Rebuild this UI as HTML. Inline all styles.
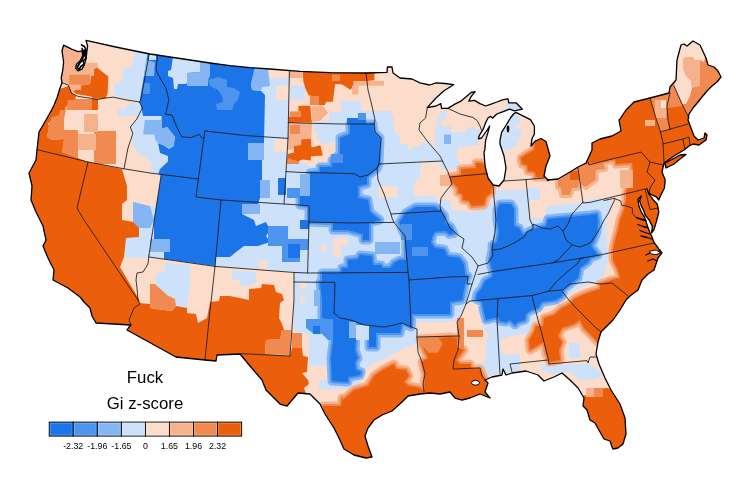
<!DOCTYPE html>
<html><head><meta charset="utf-8"><title>Gi z-score map</title>
<style>
html,body{margin:0;padding:0;background:#fff;}
body{width:750px;height:500px;overflow:hidden;position:relative;font-family:"Liberation Sans",Arial,sans-serif;}
svg{position:absolute;left:0;top:0;}
.t{position:absolute;color:#000;white-space:nowrap;}
</style></head><body>
<svg width="750" height="500" viewBox="0 0 750 500">
<defs><clipPath id="us"><path d="M63.6 45.2 L71.6 49.2 L78 51.6 L82 50.8 L82.8 55.6 L80.4 60.4 L76.4 64.4 L75.6 68.4 L78 70.8 L82 69.2 L84.4 64.4 L86 58.8 L86.8 52.4 L87.6 46 L86 40.4 L118 47.5 L150 54 L170 57 L190 60 L210 63 L230 65.6 L250 67.6 L270 69 L300 71.4 L330 72.6 L366 73 L387 72.4 L387.4 67 L392 67 L393 73 L400 78 L412 79 L420 82.8 L429.6 85 L436 82.8 L445 83.5 L453.6 84.7 L444 90.8 L436 98 L427.2 107.6 L436 106 L440.8 103.6 L441.6 108.4 L448 108.4 L454.4 104.4 L460.8 101.2 L466.4 96.4 L471.2 92.4 L475.2 91.6 L471.2 96.4 L468.8 101.2 L474.4 100.4 L480 103.6 L485.6 106 L490.4 104.4 L496.8 102 L503.2 99.6 L508 98.8 L508.8 102.8 L516 102.8 L522.4 109.2 L514.4 110.8 L509.6 109.2 L503.2 111.6 L496.8 114 L492.8 118 L490.4 116.4 L488 118 L485.6 122.8 L483.2 129.2 L479.2 135.6 L478.4 138.8 L481.6 138 L487.2 130 L489.6 126 L488 132.4 L485.6 140.4 L484.8 150 L484 152 L485 166 L488 178 L493 185 L499 186 L504 180 L506 168 L504 156 L500 144 L500 140.4 L501.6 132.4 L505.6 126 L510.4 118 L513.6 114 L516 112.4 L522.4 115.6 L530.4 119.6 L534.4 126 L534.4 134 L532 138.8 L531 146 L535.2 141.2 L541 138.5 L546 141.5 L550 156 L546 166 L544 176 L548 180 L558 179 L570 172 L578 167 L586 163 L592 150 L592 143 L600 139 L612 136 L621 131 L619 120 L620 119 L626 110 L634 102 L650 98 L669 93 L670 87 L676 80 L677 60 L681 45 L684 44 L687 46 L693 41 L700 45 L706 58 L708 65 L714 67 L718 71 L721 77 L717 82 L712 86 L707 91 L702 97 L698 102 L693 108 L689 114 L688 120 L691 128 L694 136 L698 140 L704 138 L705 133 L707 135 L706 140 L699 145 L693 144 L689 146 L684 150 L674 156 L664 163 L662 172 L665.2 180 L664.4 188 L660.4 196 L658.8 200 L656.4 196.8 L652.4 195.2 L648.4 192.8 L646.8 188.8 L649.2 194.4 L654 200.8 L657.2 204 L658.8 212 L656.4 221.6 L654 229.6 L651.6 232.8 L652.4 226.4 L649.2 220 L645.2 215.2 L643.6 210.4 L641.2 205.6 L639.6 200.8 L641.2 196 L638 199.2 L638.8 205.6 L641.2 212 L644.4 216.8 L646 221.6 L647.6 226.4 L650 232.8 L651.6 236 L654 242.4 L658.8 248.8 L662 252.8 L658 258 L654 270 L648 274 L642 280 L638 290 L630 296 L626 300 L620 310 L613 320 L606 327 L601 332 L598 342 L596 354 L599 364 L605 378 L611 390 L620 404 L625 418 L626 434 L623 444 L618 448 L613 449 L612 447 L610 441 L604 439 L600 432 L595 423 L590 420 L587 410 L583 406 L584 398 L578 388 L570 380 L562 373 L554 377 L544 381 L538 375 L526 371 L512 373 L506 375 L503 369 L502 375 L492 377 L485 380 L488 383 L485 392 L490 398 L480 394 L470 398 L462 400 L455 398 L450 392 L440 394 L430 393 L420 394 L408 396 L402 402 L392 411 L382 415 L374 420 L368 428 L365 436 L368 446 L372 457 L366 458 L354 455 L344 449 L339 438 L334 428 L325 414 L320 404 L310 394 L298 393 L287 406 L280 404 L274 398 L266 390 L262 380 L250 366 L240 354 L217 355 L216 361 L205 360 L176 357 L127 330 L129 327 L131 325 L96 323 L92 316 L90 308 L84 302 L80 297 L68 288 L53 280 L54 270 L48 258 L43 246 L46 240 L43 226 L40 220 L36 212 L31 200 L32 186 L29 173 L36 160 L37 150 L39 132 L46 120 L51.6 110 L54 105.2 L57.2 97.2 L59.6 89.2 L62 82.8 L61.2 78 L62.8 70 L63.6 62 L62 50.8Z M665 163 L672 159.5 L680 155 L686 154.5 L680 159 L674 164 L666 168Z"/></clipPath></defs>
<g clip-path="url(#us)">
<rect x="0" y="0" width="750" height="500" fill="#fcddcb"/>
<polygon points="134.8,45 289,60 289,120 288,138 286,164 300,161 310,166 331,166 332,160 340,154 340,142 322,144 318,138 312,124 329,120 329,112 341,112 341,101 361,101 361,111 391,111 394,120 394,132 400,136 400,144 408,144 408,150 412,150 412,146 420,146 426,140 430,144 440,156 443,162 440,162 421,163 420,174 420,178 414,184 414,196 436,196 436,200 450,200 452,210 470,212 486,208 493,200 494,190 526,190 527,188 540,188 540,200 546,206 570,204 583,202 600,198 612,200 610,212 606,220 608,255 606,270 600,282 590,284 580,288 570,294 564,299 554,304 544,308 536,312 534,322 530,334 510,336 500,340 502,354 520,354 520,370 499,374 490,376 476,372 472,364 486,362 486,340 490,334 484,330 482,318 478,312 480,304 476,302 466,304 462,312 458,320 450,322 417,322 417,330 417,343 400,350 383,360 367,367 360,376 348,382 332,382 331,366 309,366 309,334 298,334 294,330 294,300 294,272 215,266 164,259 150,258 124,257 126,238 139,237 140,228 133,228 133,202 150,206 161,206 161,176 151,172 150.4,161 146.4,157.6 138.4,154.4 132,143 132.8,133.6 130.4,127 136.8,119 139,116 119,116 116,110.4 125.6,108 127,104 138.4,103 139.6,102 119.6,98 114.8,95.6 114,84.4 122,81.2 122.8,68.4 130,67.6 134,59.6" fill="#cde1fa"/>
<polygon points="165,263 191,265 190,286 187,308 176,306 175,299 167,295 155,284 156,274 165,270" fill="#cde1fa"/>
<polygon points="232,270 256,272 256,282 250,286 240,286 240,280 232,280" fill="#cde1fa"/>
<polygon points="440.4,111.6 446.4,111.6 446.4,118.8 441.6,120 441.6,126 451.2,126 451.2,132 465.6,132 466,129 470,127 475,127 477,130 481,131 481.5,135 478,139 478.5,145 472.8,145.2 458.4,147.6 456,159.6 460.8,162 456,169.2 441.6,169.2 440.4,162 434.4,154.8 435.6,126" fill="#cde1fa"/>
<polygon points="444,134.4 451,134.4 451,144 444,144" fill="#85b6f3"/>
<polygon points="500,110 507,108 507,102 510,100 516,102 519,106 523.5,109.5 514,111.5 507,112.5 500,112.5" fill="#cde1fa"/>
<polygon points="513,112 520,117.5 521,124 516,125 515.5,129 521,129.5 521.5,137 518,138 517.5,145 513.6,146.8 509.6,150 498,150 499,140 501,132 505,126 510,118" fill="#cde1fa"/>
<polygon points="541,364 562,365 588,363.5 593,366 600,371 601.5,376 594,379.5 580,380.5 577,377 569,371.5 561,372.5 553,374 541,370" fill="#cde1fa"/>
<polygon points="569,343 580,343 580,358 569,358" fill="#cde1fa"/>
<polygon points="300,86 305,86 305,94 300,94" fill="#cde1fa"/>
<polygon points="319,380 360,380 360,389 319,389" fill="#cde1fa"/>
<polygon points="268,60 289,60 288,78 268,78" fill="#fcddcb"/>
<polygon points="276,86 289,86 289,100 276,100" fill="#fcddcb"/>
<polygon points="274,139 287,139 287,152 274,152" fill="#fcddcb"/>
<polygon points="333,238 348,238 348,245 341,245 341,257 333,257" fill="#fcddcb"/>
<polygon points="321,245 326,245 326,252 321,252" fill="#fcddcb"/>
<polygon points="379,186 397,186 397,198 379,198" fill="#fcddcb"/>
<polygon points="259,260 267,260 267,270 259,270" fill="#fcddcb"/>
<polygon points="530,200 546,200 546,218 530,218" fill="#fcddcb"/>
<polygon points="300,282 306,282 306,289 300,289" fill="#fcddcb"/>
<polygon points="300,296 305,296 305,303 300,303" fill="#fcddcb"/>
<polygon points="149,45 255,60 255,70 251,84 252,90 261,91 265,95 264,143 248,143 248,160 262,160 262,180 260,198 258,204 244,204 242,214 254,220 256,226 266,222 270,230 266,236 270,242 258,246 244,246 236,252 230,257 216,257 215,266 164,259 164,252 168,246 170,242 154,239 154,220 161,176 158.4,173.6 160,169 168,161.6 168,156 160,153 158,143 164,145.6 169,149 173.6,146 175,137 167,127 161.6,129 161.6,116 143,116 141,105 139.6,102" fill="#1c74e9"/>
<polygon points="350,124 373,124 374,132 380,138 379,164 377,169 368,176 367,178 367,184 358,186 358,198 368,200 370,212 380,220 369,223 369,240 363,240 363,234 348,230 333,230 333,223 309,222 309,206 300,205 300,196 310,195 310,173 320,172 320,167 332,167 332,160 340,154 340,138 350,134" fill="#85b6f3" stroke="#85b6f3" stroke-width="9" stroke-linejoin="round"/>
<polygon points="322,273 341,273 342,268 348,268 348,260 358,259 360,255 372,256 373,265 381,265 382,268 390,268 394,263 400,260 406,260 406,236.6 402,230.2 399.6,222.2 406,212.6 415.6,207 434.8,207 439.6,210.2 444.4,215.8 445.2,223 450.8,227 454,233.4 449.2,234.2 446,231 434.8,231.8 432.4,236.6 430.8,243 434.8,247.8 444.4,249.4 447.6,256.6 458.8,257.4 463.6,263.8 465.2,275 468,276 465,284 462,300 450,302 450,314 412,314 411,327 402,323 400,333 364,333 364,326 354,322 346,320 340,318 334,313 335,282 322,282" fill="#85b6f3" stroke="#85b6f3" stroke-width="9" stroke-linejoin="round"/>
<polygon points="320,282 335,282 334,313 340,318 349,320 349,336 356,337 355,350 358,358 355,362 356,370 361,372 360,375 348,377 348,382 332,381 331,358 333,342 333,320 322,318 322,300" fill="#85b6f3" stroke="#85b6f3" stroke-width="9" stroke-linejoin="round"/>
<polygon points="369,333 376,333 376,347 369,347" fill="#85b6f3" stroke="#85b6f3" stroke-width="9" stroke-linejoin="round"/>
<polygon points="490,260 492,250 492,245 497,242 499,232 497,220 497,210 500,204 511,204 514,209 514,226 519,228 523,235 530,231 534,229 546,226 548,219 570,217 590,215 597,214 598,222 597,232 594,240 591,246 598,255 590,258 588,262 580,268 578,278 570,284 564,289 562,296 556,300 542,302 538,308 530,311 526,314 525,320 518,322 515,325 510,320 506,322 500,321 498,317 486,320 484,312 482,302 476,299 477,294 482,288 485,281 492,277 493,272 491,266" fill="#85b6f3" stroke="#85b6f3" stroke-width="9" stroke-linejoin="round"/>
<polygon points="350,124 373,124 374,132 380,138 379,164 377,169 368,176 367,178 367,184 358,186 358,198 368,200 370,212 380,220 369,223 369,240 363,240 363,234 348,230 333,230 333,223 309,222 309,206 300,205 300,196 310,195 310,173 320,172 320,167 332,167 332,160 340,154 340,138 350,134" fill="#4d94ee" stroke="#4d94ee" stroke-width="4" stroke-linejoin="round"/>
<polygon points="322,273 341,273 342,268 348,268 348,260 358,259 360,255 372,256 373,265 381,265 382,268 390,268 394,263 400,260 406,260 406,236.6 402,230.2 399.6,222.2 406,212.6 415.6,207 434.8,207 439.6,210.2 444.4,215.8 445.2,223 450.8,227 454,233.4 449.2,234.2 446,231 434.8,231.8 432.4,236.6 430.8,243 434.8,247.8 444.4,249.4 447.6,256.6 458.8,257.4 463.6,263.8 465.2,275 468,276 465,284 462,300 450,302 450,314 412,314 411,327 402,323 400,333 364,333 364,326 354,322 346,320 340,318 334,313 335,282 322,282" fill="#4d94ee" stroke="#4d94ee" stroke-width="4" stroke-linejoin="round"/>
<polygon points="320,282 335,282 334,313 340,318 349,320 349,336 356,337 355,350 358,358 355,362 356,370 361,372 360,375 348,377 348,382 332,381 331,358 333,342 333,320 322,318 322,300" fill="#4d94ee" stroke="#4d94ee" stroke-width="4" stroke-linejoin="round"/>
<polygon points="369,333 376,333 376,347 369,347" fill="#4d94ee" stroke="#4d94ee" stroke-width="4" stroke-linejoin="round"/>
<polygon points="490,260 492,250 492,245 497,242 499,232 497,220 497,210 500,204 511,204 514,209 514,226 519,228 523,235 530,231 534,229 546,226 548,219 570,217 590,215 597,214 598,222 597,232 594,240 591,246 598,255 590,258 588,262 580,268 578,278 570,284 564,289 562,296 556,300 542,302 538,308 530,311 526,314 525,320 518,322 515,325 510,320 506,322 500,321 498,317 486,320 484,312 482,302 476,299 477,294 482,288 485,281 492,277 493,272 491,266" fill="#4d94ee" stroke="#4d94ee" stroke-width="4" stroke-linejoin="round"/>
<polygon points="350,124 373,124 374,132 380,138 379,164 377,169 368,176 367,178 367,184 358,186 358,198 368,200 370,212 380,220 369,223 369,240 363,240 363,234 348,230 333,230 333,223 309,222 309,206 300,205 300,196 310,195 310,173 320,172 320,167 332,167 332,160 340,154 340,138 350,134" fill="#1c74e9"/>
<polygon points="322,273 341,273 342,268 348,268 348,260 358,259 360,255 372,256 373,265 381,265 382,268 390,268 394,263 400,260 406,260 406,236.6 402,230.2 399.6,222.2 406,212.6 415.6,207 434.8,207 439.6,210.2 444.4,215.8 445.2,223 450.8,227 454,233.4 449.2,234.2 446,231 434.8,231.8 432.4,236.6 430.8,243 434.8,247.8 444.4,249.4 447.6,256.6 458.8,257.4 463.6,263.8 465.2,275 468,276 465,284 462,300 450,302 450,314 412,314 411,327 402,323 400,333 364,333 364,326 354,322 346,320 340,318 334,313 335,282 322,282" fill="#1c74e9"/>
<polygon points="320,282 335,282 334,313 340,318 349,320 349,336 356,337 355,350 358,358 355,362 356,370 361,372 360,375 348,377 348,382 332,381 331,358 333,342 333,320 322,318 322,300" fill="#1c74e9"/>
<polygon points="369,333 376,333 376,347 369,347" fill="#1c74e9"/>
<polygon points="490,260 492,250 492,245 497,242 499,232 497,220 497,210 500,204 511,204 514,209 514,226 519,228 523,235 530,231 534,229 546,226 548,219 570,217 590,215 597,214 598,222 597,232 594,240 591,246 598,255 590,258 588,262 580,268 578,278 570,284 564,289 562,296 556,300 542,302 538,308 530,311 526,314 525,320 518,322 515,325 510,320 506,322 500,321 498,317 486,320 484,312 482,302 476,299 477,294 482,288 485,281 492,277 493,272 491,266" fill="#1c74e9"/>
<polygon points="144.8,120 161.6,120 161.6,128.8 167.2,127.2 175.2,136.8 173.6,146.4 168.8,148.8 164,145.6 158.4,143.2 155.2,140 154.4,134.4 143.2,134.4" fill="#85b6f3"/>
<polygon points="173,57 200,60 200,72 187,73 190,78 186,84 178,84 177,89 174,89 173,78 168,76 168,71 171,70" fill="#cde1fa"/>
<polygon points="200,60 210,62 210,76 208,80 208,86 187,86 187,73 200,72" fill="#85b6f3"/>
<polygon points="255,66 268,68 270,86 262,87 261,91 252,90 251,84" fill="#85b6f3"/>
<polygon points="208,80 218,77 227,80 227,87 234,88 240,92 238,100 234,104 232,110 217,110 216,104 223,102 222,96 218,90 210,86" fill="#4d94ee"/>
<polygon points="248,143 264,143 264,160 248,160" fill="#85b6f3"/>
<polygon points="260,180 270,180 270,198 260,198" fill="#85b6f3"/>
<polygon points="150,239 170,239 170,252 150,252" fill="#85b6f3"/>
<polygon points="133,202 150,206 154,220 150,228 133,228" fill="#85b6f3"/>
<polygon points="143,83 150,83 150,94 143,94" fill="#4d94ee"/>
<polygon points="149,52 156,52 156,60 149,60" fill="#cde1fa"/>
<polygon points="146,60 155,62 154,76 144,76" fill="#85b6f3"/>
<polygon points="278,178 286,178 286,195 278,195" fill="#1c74e9"/>
<polygon points="287,188 300,188 300,198 287,198" fill="#4d94ee"/>
<polygon points="268,226 288,226 288,246 268,246" fill="#4d94ee"/>
<polygon points="282,239 300,239 300,262 282,262" fill="#4d94ee"/>
<polygon points="288,244 300,244 300,258 288,258" fill="#1c74e9"/>
<polygon points="300,220 309,220 309,229 300,229" fill="#1c74e9"/>
<polygon points="300,239 308,239 308,250 300,250" fill="#4d94ee"/>
<polygon points="300,174 310,174 310,196 300,196" fill="#85b6f3"/>
<polygon points="242,204 260,204 260,214 242,214" fill="#85b6f3"/>
<polygon points="375,242 400,242 400,254 375,254" fill="#85b6f3"/>
<polygon points="412,247 428,247 428,256 412,256" fill="#4d94ee"/>
<polygon points="331,154 343,154 343,163 331,163" fill="#4d94ee"/>
<polygon points="347,118 366,118 366,124 347,124" fill="#1c74e9"/>
<polygon points="358,113 366,113 366,120 358,120" fill="#4d94ee"/>
<polygon points="364,326 400,326 400,333 364,333" fill="#1c74e9"/>
<polygon points="306,319 333,319 333,340 328,340 322,334 314,334 306,328" fill="#4d94ee"/>
<polygon points="313,326 320,326 320,334 313,334" fill="#1c74e9"/>
<polygon points="314,290 320,290 320,306 314,306" fill="#85b6f3"/>
<polygon points="356,325 369,325 369,340 356,340" fill="#cde1fa"/>
<polygon points="349,322 356,322 356,338 349,338" fill="#85b6f3"/>
<polygon points="401,224 412,224 412,240 401,240" fill="#4d94ee"/>
<polygon points="55,40 82,50.8 86,58.8 86.8,62.8 97.2,62.8 98,67.6 94,69.2 93.2,76.4 90,76.4 90,84.4 81.2,84.4 81.2,90 74.8,90.8 73.2,94 68.4,85.2 62,82.8 50,70" fill="#f6b28c"/>
<polygon points="69.2,74.8 90,74.8 90,84.4 69.2,84.4" fill="#f08a50"/>
<polygon points="81.2,84.4 90,84.4 90,90 81.2,90" fill="#f08a50"/>
<polygon points="97.2,67.6 102,71.6 108.4,76.4 107.6,94 105.2,98.8 94,98.8 90.8,96.4 76.4,94 73.2,91.6 75.6,90 81.2,90 81.2,85.2 90,84.4 90.8,76.4 94,75.6 94,69.2" fill="#eb5f0c"/>
<polygon points="50,117 61,106 67,106 64,119 64,130 78,130 78,158 62,152 64,139 52,140 47,137 49,126" fill="#f08a50"/>
<polygon points="67,99 96,99 96,110 67,110" fill="#f08a50"/>
<polygon points="94,131 116,131 116,164 94,164" fill="#f08a50"/>
<polygon points="78,134 96,134 96,150 78,150" fill="#f6b28c"/>
<polygon points="84,114 98,114 98,132 84,132" fill="#f6b28c"/>
<polygon points="92,99 98,99 98,110 92,110" fill="#eb5f0c"/>
<polygon points="59.6,89.2 68.8,86 72,93 76,96 75,100 68,100 67,106 61,106 59,115 52,117 50,122 42,128 39,138 37,150 20,150 20,89" fill="#eb5f0c"/>
<polygon points="20,84 59.6,89.2 68.8,86 71.6,93.2 70,98.8 66.8,100.4 64.4,110 51.6,110 46,120 49,126 47,137 52,140 64,139 62,152 88,162 122,169 127,186 127,200 122,204 122,220 133,222 139,228 139,237 126,238 124,257 120,267 137,296 140,302 139,303 150,304 150,308 172,311 176,306 187,308 187,313 196,314 198,323 207,318 210,302 219,301 220,296 230,296 249,300 249,289 261,288 262,284 274,285 276,292 282,294 284,300 280,303 279,318 282,324 284,330 282,330 280,339 266,340 265,354 290,356 292,348 302,348 303,356 308,357 307,372 302,373 308,380 309,384 304,388 306,394 310,394 323,406 330,420 300,430 200,380 100,340 20,300" fill="#eb5f0c"/>
<polygon points="150,284 155,284 167,295 175,299 176,306 172,311 150,308" fill="#f08a50"/>
<polygon points="282,330 291,330 290,355 265,354 266,340 280,339" fill="#f08a50"/>
<polygon points="292,333 302,333 302,348 292,348" fill="#f08a50"/>
<polygon points="343,400 354,390 368,386 374,376 384,369 394,364 396,369 406,370 409,376 404,382 409,386 420,388 424,392 430,410 380,470 340,470 325,414 323,406 341,406 342,398" fill="#f6b28c" stroke="#f6b28c" stroke-width="9" stroke-linejoin="round"/>
<polygon points="420,339 450,337 458,338 459,348 464,350 456,360 460,364 470,364 472,369 480,369 485,380 495,405 440,410 424,392 425,374 422,362 428,358 424,350" fill="#f6b28c" stroke="#f6b28c" stroke-width="9" stroke-linejoin="round"/>
<polygon points="544,318 554,315 562,308 570,304 578,312 580,320 574,324 562,328 558,336 562,342 559,350 560,360 550,362 546,354 544,342 530,350 529,340 534,332 536,326 543,326" fill="#f6b28c" stroke="#f6b28c" stroke-width="9" stroke-linejoin="round"/>
<polygon points="598,342 592,336 584,328 581,322 578,312 570,304 574,299 582,295 590,292 600,289 600,284 612,280 620,278 618,270 613,260 613,250 615,240 618,230 620,220 624,210 626,200 626,193 627,189 631,186 630,178 633,172 632,163 616,164 615,159 600,162 588,164 580,166 575,150 600,100 760,20 760,300 620,340" fill="#f6b28c" stroke="#f6b28c" stroke-width="9" stroke-linejoin="round"/>
<polygon points="558,180 570,172.4 578,167.6 580,178 578,188 572,188 570,195 562,195 561,188 558,187" fill="#f6b28c" stroke="#f6b28c" stroke-width="6" stroke-linejoin="round"/>
<polygon points="578.8,167.6 602.8,161.6 605.2,168.8 595.6,170 595.6,179.6 586,186.8 581.2,184.4" fill="#f6b28c" stroke="#f6b28c" stroke-width="6" stroke-linejoin="round"/>
<polygon points="461,169 476,168 476,163 482,163 485,168 487,178 492,186 491,193 486,197 484,205 472,206 469,201 463,200 462,194 458,193 458,188 454,184 450,180 450,177 461,175" fill="#f6b28c" stroke="#f6b28c" stroke-width="9" stroke-linejoin="round"/>
<polygon points="538,139 546,141 552,156 548,166 545,177 536,177 535,172 528,171 527,165 522,164 521,158 527,154 534,150 535,142" fill="#f6b28c" stroke="#f6b28c" stroke-width="9" stroke-linejoin="round"/>
<polygon points="343,400 354,390 368,386 374,376 384,369 394,364 396,369 406,370 409,376 404,382 409,386 420,388 424,392 430,410 380,470 340,470 325,414 323,406 341,406 342,398" fill="#f08a50" stroke="#f08a50" stroke-width="4" stroke-linejoin="round"/>
<polygon points="420,339 450,337 458,338 459,348 464,350 456,360 460,364 470,364 472,369 480,369 485,380 495,405 440,410 424,392 425,374 422,362 428,358 424,350" fill="#f08a50" stroke="#f08a50" stroke-width="4" stroke-linejoin="round"/>
<polygon points="544,318 554,315 562,308 570,304 578,312 580,320 574,324 562,328 558,336 562,342 559,350 560,360 550,362 546,354 544,342 530,350 529,340 534,332 536,326 543,326" fill="#f08a50" stroke="#f08a50" stroke-width="4" stroke-linejoin="round"/>
<polygon points="598,342 592,336 584,328 581,322 578,312 570,304 574,299 582,295 590,292 600,289 600,284 612,280 620,278 618,270 613,260 613,250 615,240 618,230 620,220 624,210 626,200 626,193 627,189 631,186 630,178 633,172 632,163 616,164 615,159 600,162 588,164 580,166 575,150 600,100 760,20 760,300 620,340" fill="#f08a50" stroke="#f08a50" stroke-width="4" stroke-linejoin="round"/>
<polygon points="461,169 476,168 476,163 482,163 485,168 487,178 492,186 491,193 486,197 484,205 472,206 469,201 463,200 462,194 458,193 458,188 454,184 450,180 450,177 461,175" fill="#f08a50" stroke="#f08a50" stroke-width="4" stroke-linejoin="round"/>
<polygon points="538,139 546,141 552,156 548,166 545,177 536,177 535,172 528,171 527,165 522,164 521,158 527,154 534,150 535,142" fill="#f08a50" stroke="#f08a50" stroke-width="4" stroke-linejoin="round"/>
<polygon points="343,400 354,390 368,386 374,376 384,369 394,364 396,369 406,370 409,376 404,382 409,386 420,388 424,392 430,410 380,470 340,470 325,414 323,406 341,406 342,398" fill="#eb5f0c"/>
<polygon points="420,339 450,337 458,338 459,348 464,350 456,360 460,364 470,364 472,369 480,369 485,380 495,405 440,410 424,392 425,374 422,362 428,358 424,350" fill="#eb5f0c"/>
<polygon points="457,318 464,318 464,348 457,348" fill="#f08a50"/>
<polygon points="418.8,337.6 438,337.6 442.8,343.2 438,352.8 428.4,352.8 424.4,348 419.6,346.4" fill="#f08a50"/>
<polygon points="467,330 483,330 483,337 467,337" fill="#f08a50"/>
<polygon points="544,318 554,315 562,308 570,304 578,312 580,320 574,324 562,328 558,336 562,342 559,350 560,360 550,362 546,354 544,342 530,350 529,340 534,332 536,326 543,326" fill="#eb5f0c"/>
<polygon points="598,342 592,336 584,328 581,322 578,312 570,304 574,299 582,295 590,292 600,289 600,284 612,280 620,278 618,270 613,260 613,250 615,240 618,230 620,220 624,210 626,200 626,193 627,189 631,186 630,178 633,172 632,163 616,164 615,159 600,162 588,164 580,166 575,150 600,100 760,20 760,300 620,340" fill="#eb5f0c"/>
<polygon points="558,180 570,172.4 578,167.6 580,178 578,188 572,188 570,195 562,195 561,188 558,187" fill="#f08a50"/>
<polygon points="570,171 579,171 579,180 570,180" fill="#eb5f0c"/>
<polygon points="578.8,167.6 602.8,161.6 605.2,168.8 595.6,170 595.6,179.6 586,186.8 581.2,184.4" fill="#f08a50"/>
<polygon points="670,87 676,80 677,60 681,40 700,40 725,77 700,100 688,120 689,118 682,104 674,86" fill="#f08a50"/>
<polygon points="676,80 677,60 681,40 693,38 700,45 705,57 704,62 700,60 694,60 693,57 683,58 683,68 686,76 691,80 692,88 690,96 686,104 682,104 674,86" fill="#fcddcb"/>
<polygon points="683,58 693,57 694,60 700,60 700,86 692,88 691,80 686,76 683,68" fill="#f6b28c"/>
<polygon points="650,98 669,93 670,87 674,86 682,104 689,118 688,124 660,132 656.5,120" fill="#f08a50"/>
<polygon points="655,100 666,100 666,118 655,118" fill="#f6b28c"/>
<polygon points="667.5,108 683,106 689,118 688,124 669,129.5 668,120" fill="#eb5f0c"/>
<polygon points="661,100 666,100 666,108 661,108" fill="#fcddcb"/>
<polygon points="645,120 655,120 655,126 645,126" fill="#f6b28c"/>
<polygon points="290,85.8 304.8,85.8 304.8,99.4 290,99.4" fill="#cde1fa"/>
<polygon points="302.4,60 374.4,60 374.4,80.2 366.4,81 353.6,81.8 353.6,85.8 350.4,89.8 344,85.8 341.6,84.2 335.2,84.2 332.8,101.8 326.4,101.8 324.8,105 316,105 314.4,96.2 308.8,95.4 305.6,89 303.2,81" fill="#eb5f0c"/>
<polygon points="332,74.6 340,74.6 340,81 332,81" fill="#f08a50"/>
<polygon points="289,60 302.4,60 302.4,78 289,78" fill="#f6b28c"/>
<polygon points="353.6,81 384,81 384,85.8 353.6,85.8" fill="#f6b28c"/>
<polygon points="352,85.8 358.4,85.8 358.4,94.6 352,94.6" fill="#f6b28c"/>
<polygon points="310,96 319,96 319,105 310,105" fill="#f08a50"/>
<polygon points="311.2,106.6 323.2,105.8 328,113 323.2,117.8 320,121 312,121.8" fill="#f6b28c"/>
<polygon points="298.4,105.8 310.4,105.8 311.2,117.8 312,122.6 288.8,122.6 288.8,117 300.8,116.2 300.8,111.4 298.4,111.4" fill="#eb5f0c"/>
<polygon points="289.6,111.4 300.8,111.4 300.8,117 289.6,117" fill="#f08a50"/>
<polygon points="288,122.6 312,122.6 311,146 288,150" fill="#f6b28c"/>
<polygon points="290,125 300,125 300,134 290,134" fill="#f08a50"/>
<polygon points="287,157 299,157 299,164 287,164" fill="#f08a50"/>
<polygon points="287.6,154 294,152.4 294,146 301.2,145.2 301.2,139.6 310.8,138.8 311.6,147.6 320.4,145.2 322.8,155.6 310.8,156.4 310.8,160.4 302.8,159.6 298,161.2 287.6,158" fill="#eb5f0c"/>
<polygon points="461,169 476,168 476,163 482,163 485,168 487,178 492,186 491,193 486,197 484,205 472,206 469,201 463,200 462,194 458,193 458,188 454,184 450,180 450,177 461,175" fill="#eb5f0c"/>
<polygon points="538,139 546,141 552,156 548,166 545,177 536,177 535,172 528,171 527,165 522,164 521,158 527,154 534,150 535,142" fill="#eb5f0c"/>
<polygon points="440,175 450,175 450,186 440,186" fill="#f6b28c"/>
<polygon points="583,396 590,394 593,389 608,388 612,390 640,420 630,460 590,460 575,400" fill="#eb5f0c"/>
<polygon points="592,388 603,388 603,397 592,397" fill="#f08a50"/>
<polygon points="586,388 594,388 594,397 586,397" fill="#f6b28c"/>
<polygon points="620,170 633,170 633,188 620,188" fill="#f6b28c"/>
</g>
<g fill="none" stroke="#1a1a1a" stroke-width="0.85" stroke-linejoin="round" stroke-linecap="round">
<path d="M448 108.4 L460 114 L473 117.5 L477.5 121 L480 126 L481.5 130"/>
<path d="M62 82.8 L68.4 85.2 L71.6 93.2 L78 96.4 L89.2 98 L97.2 99.6 L105.2 98 L113.2 97.2 L127 100 L139.6 102"/>
<path d="M149.2 54 L140.8 100 L139.6 102"/>
<path d="M139.6 102 L142.4 108 L136.8 119 L130.4 127 L132.8 133.6 L128 148 L124 168.8"/>
<path d="M37 149.6 L88 162 L124 168.8 L150 173 L198.4 179"/>
<path d="M88 162 L77 208 L84 220 L138 300"/>
<path d="M138 300 L140 304 L134 308 L129 320 L131 325"/>
<path d="M149 255 L148 264 L143 272 L137 273 L136 280 L137 288 L138 300"/>
<path d="M161 176 L149 255"/>
<path d="M149 257 L215 266.4"/>
<path d="M157.6 55 L156 70 L160 78 L166 88 L168.8 100 L165.6 114.4 L172 115 L176.8 127 L181.6 136.8 L191 137.6 L199 134.4 L202.4 138.4 L204 137.5"/>
<path d="M204.8 131 L246 135.6 L288 138.4"/>
<path d="M204.8 131 L198.4 179 L196 197 L221 200"/>
<path d="M289.4 71.6 L288 138.4 L286 172 L284 204"/>
<path d="M288.2 122.5 L300 123 L340 124 L374 124"/>
<path d="M286 171.6 L300 172.4 L354 173.6 L360 177 L368 175 L377 168 L379 164.5"/>
<path d="M221 200 L284 204 L300 205 L309 206 L309 222"/>
<path d="M309 222 L350 223 L394 222.4 L400 230 L405 236 L408 272.4 L409 280 L411 327"/>
<path d="M221 200 L215 266.4"/>
<path d="M215 266.4 L293 272.4 L307.6 273 L408 272.4"/>
<path d="M215 266.4 L209 320 L205 360"/>
<path d="M294 272.4 L294 300 L290 356"/>
<path d="M240 353.6 L290 356"/>
<path d="M309 222 L307.6 273"/>
<path d="M293.6 282 L335 282.4 L334 313"/>
<path d="M334 313 L340 318 L346 319 L354 321 L364 325 L374 326 L384 327 L394 325 L402 323 L411 327 L417 329 L417 337 L418 352 L422 362 L425 374 L423 384 L424 392"/>
<path d="M409 280 L450 277 L468 276.4 L467 284 L472 284"/>
<path d="M417 337 L459 336"/>
<path d="M379 164.5 L377 168 L378 180 L384 194 L388 206 L391 214 L392 218 L394 222.4"/>
<path d="M379 164 L442 161"/>
<path d="M374 124 L375 132 L381 138 L379 164"/>
<path d="M366 73 L368 90 L372 106 L375 120 L374 124"/>
<path d="M427.2 108.4 L425.6 118 L420 122.8 L419 130 L428 142 L440 156 L443 162"/>
<path d="M443 162 L448 172 L450 178 L452 184 L447 190 L441 198 L440 206 L441 211 L444 216 L450 228 L458 235 L464 239 L462 248 L472 257 L478 266 L475 275 L472 284 L469 294 L466 304 L461 316 L457 322 L459 336 L458 350 L454 360 L453 369 L480 368 L482 376 L485 380"/>
<path d="M450 177 L487 173.6"/>
<path d="M391 214 L441 211"/>
<path d="M493 186 L496 220 L495 232 L493 242 L492 250"/>
<path d="M478 266 L488 263 L493 255 L492 250 L500 249 L508 246 L516 242 L524 237 L527 232 L533 229 L533 224 L542 228 L550 229 L558 226 L563 231 L568 224 L572 214 L583 202"/>
<path d="M504 181 L526 179.6 L544 178"/>
<path d="M526 179.6 L530 220 L533 226"/>
<path d="M578 168 L583 203 L590 202.4 L646 188.8"/>
<path d="M588 162 L589 165 L600 162 L641 152 L650 162 L647 172 L655 180 L650 188 L649 194"/>
<path d="M650 162 L663 165"/>
<path d="M645.2 189.6 L650 209.6 L658 208"/>
<path d="M650 98 L656.5 120 L660 130 L663 143 L664 162"/>
<path d="M670 93 L667 106 L668 120 L670 129"/>
<path d="M674 86 L682 104 L689 118"/>
<path d="M660 132 L688 124"/>
<path d="M663 144 L683 139 L689 137 L690 145"/>
<path d="M683 139 L685 150"/>
<path d="M478 274.4 L496 271 L552 263 L600 255 L654 243"/>
<path d="M563 231 L566 240 L572 245 L558 260 L552 263"/>
<path d="M572 245 L580 247 L590 243 L594 238 L600 228 L604 220 L608 214 L615 199"/>
<path d="M604 200.5 L614 198.4 L620.4 200.8 L622 205.6 L625.2 205.6 L632.4 208 L632.4 213.6 L636.4 217.6 L644.4 219.2"/>
<path d="M466 304 L470 301 L498 298.6 L532 295.6 L549 291"/>
<path d="M549 291 L556 282 L566 273 L578 263 L580 259 L584 257.5"/>
<path d="M549 291 L563 290 L570 284 L588 282 L600 284 L612 283 L628 296"/>
<path d="M562.5 292 L568 299 L575 307 L581 313 L587 319 L595 327 L601 332"/>
<path d="M498 298.6 L497 320 L500 374"/>
<path d="M532 295.6 L538 320 L542 334 L548 358 L549 364"/>
<path d="M512 372 L510 364 L548 360"/>
<path d="M549 364 L587 360.6 L588 363 L590 357 L596 357"/>
</g>
<path d="M63.6 45.2 L71.6 49.2 L78 51.6 L82 50.8 L82.8 55.6 L80.4 60.4 L76.4 64.4 L75.6 68.4 L78 70.8 L82 69.2 L84.4 64.4 L86 58.8 L86.8 52.4 L87.6 46 L86 40.4 L118 47.5 L150 54 L170 57 L190 60 L210 63 L230 65.6 L250 67.6 L270 69 L300 71.4 L330 72.6 L366 73 L387 72.4 L387.4 67 L392 67 L393 73 L400 78 L412 79 L420 82.8 L429.6 85 L436 82.8 L445 83.5 L453.6 84.7 L444 90.8 L436 98 L427.2 107.6 L436 106 L440.8 103.6 L441.6 108.4 L448 108.4 L454.4 104.4 L460.8 101.2 L466.4 96.4 L471.2 92.4 L475.2 91.6 L471.2 96.4 L468.8 101.2 L474.4 100.4 L480 103.6 L485.6 106 L490.4 104.4 L496.8 102 L503.2 99.6 L508 98.8 L508.8 102.8 L516 102.8 L522.4 109.2 L514.4 110.8 L509.6 109.2 L503.2 111.6 L496.8 114 L492.8 118 L490.4 116.4 L488 118 L485.6 122.8 L483.2 129.2 L479.2 135.6 L478.4 138.8 L481.6 138 L487.2 130 L489.6 126 L488 132.4 L485.6 140.4 L484.8 150 L484 152 L485 166 L488 178 L493 185 L499 186 L504 180 L506 168 L504 156 L500 144 L500 140.4 L501.6 132.4 L505.6 126 L510.4 118 L513.6 114 L516 112.4 L522.4 115.6 L530.4 119.6 L534.4 126 L534.4 134 L532 138.8 L531 146 L535.2 141.2 L541 138.5 L546 141.5 L550 156 L546 166 L544 176 L548 180 L558 179 L570 172 L578 167 L586 163 L592 150 L592 143 L600 139 L612 136 L621 131 L619 120 L620 119 L626 110 L634 102 L650 98 L669 93 L670 87 L676 80 L677 60 L681 45 L684 44 L687 46 L693 41 L700 45 L706 58 L708 65 L714 67 L718 71 L721 77 L717 82 L712 86 L707 91 L702 97 L698 102 L693 108 L689 114 L688 120 L691 128 L694 136 L698 140 L704 138 L705 133 L707 135 L706 140 L699 145 L693 144 L689 146 L684 150 L674 156 L664 163 L662 172 L665.2 180 L664.4 188 L660.4 196 L658.8 200 L656.4 196.8 L652.4 195.2 L648.4 192.8 L646.8 188.8 L649.2 194.4 L654 200.8 L657.2 204 L658.8 212 L656.4 221.6 L654 229.6 L651.6 232.8 L652.4 226.4 L649.2 220 L645.2 215.2 L643.6 210.4 L641.2 205.6 L639.6 200.8 L641.2 196 L638 199.2 L638.8 205.6 L641.2 212 L644.4 216.8 L646 221.6 L647.6 226.4 L650 232.8 L651.6 236 L654 242.4 L658.8 248.8 L662 252.8 L658 258 L654 270 L648 274 L642 280 L638 290 L630 296 L626 300 L620 310 L613 320 L606 327 L601 332 L598 342 L596 354 L599 364 L605 378 L611 390 L620 404 L625 418 L626 434 L623 444 L618 448 L613 449 L612 447 L610 441 L604 439 L600 432 L595 423 L590 420 L587 410 L583 406 L584 398 L578 388 L570 380 L562 373 L554 377 L544 381 L538 375 L526 371 L512 373 L506 375 L503 369 L502 375 L492 377 L485 380 L488 383 L485 392 L490 398 L480 394 L470 398 L462 400 L455 398 L450 392 L440 394 L430 393 L420 394 L408 396 L402 402 L392 411 L382 415 L374 420 L368 428 L365 436 L368 446 L372 457 L366 458 L354 455 L344 449 L339 438 L334 428 L325 414 L320 404 L310 394 L298 393 L287 406 L280 404 L274 398 L266 390 L262 380 L250 366 L240 354 L217 355 L216 361 L205 360 L176 357 L127 330 L129 327 L131 325 L96 323 L92 316 L90 308 L84 302 L80 297 L68 288 L53 280 L54 270 L48 258 L43 246 L46 240 L43 226 L40 220 L36 212 L31 200 L32 186 L29 173 L36 160 L37 150 L39 132 L46 120 L51.6 110 L54 105.2 L57.2 97.2 L59.6 89.2 L62 82.8 L61.2 78 L62.8 70 L63.6 62 L62 50.8Z M665 163 L672 159.5 L680 155 L686 154.5 L680 159 L674 164 L666 168Z" fill="none" stroke="#000" stroke-width="1.3" stroke-linejoin="round"/>
<path d="M81.5 45 L84.5 46.5 L86.3 50.5 L85 54.5 L86 58 L83.2 61 L84 64.2 L81 66.2 L79.2 69.3 L77 67.5 L79 64 L81.5 61 L83.5 56.5 L83.3 51.5 L82 48.5 M80 62.5 L78 66 M84.5 50 L84.8 56" fill="none" stroke="#000" stroke-width="1.7" stroke-linejoin="round" stroke-linecap="round"/>
<path d="M636.4 217.6 L641 219.5 L646 220.5 M638 224.5 L643 226.5 L647.5 227.5 M640 230.5 L645 232.5 L650 234 M641 236 L647 237.5 L652 239 M646 255 L652 252 L657 254 L660 250 M648 261 L653 259 L657 261" fill="none" stroke="#000" stroke-width="1.3" stroke-linejoin="round" stroke-linecap="round"/>
<ellipse cx="508" cy="129" rx="1.3" ry="3.4" fill="#000"/><circle cx="548" cy="180" r="1.3" fill="#000"/>
<ellipse cx="475.5" cy="382.8" rx="4" ry="2.4" fill="#fff" stroke="#000" stroke-width="1"/>
<path d="M649.5 251.2 L656 250 L661 253 L656 254.6 L651 254 Z" fill="#fff" stroke="#000" stroke-width="0.9" stroke-linejoin="round"/>
<rect x="49.2" y="422.1" width="24.05" height="14.0" fill="#1c74e9" stroke="#000" stroke-width="0.9"/>
<rect x="50.3" y="423.2" width="21.85" height="11.8" fill="none" stroke="#fff" stroke-opacity="0.3" stroke-width="0.8"/>
<rect x="73.2" y="422.1" width="24.05" height="14.0" fill="#4d94ee" stroke="#000" stroke-width="0.9"/>
<rect x="74.3" y="423.2" width="21.85" height="11.8" fill="none" stroke="#fff" stroke-opacity="0.3" stroke-width="0.8"/>
<rect x="97.3" y="422.1" width="24.05" height="14.0" fill="#85b6f3" stroke="#000" stroke-width="0.9"/>
<rect x="98.4" y="423.2" width="21.85" height="11.8" fill="none" stroke="#fff" stroke-opacity="0.3" stroke-width="0.8"/>
<rect x="121.4" y="422.1" width="24.05" height="14.0" fill="#cde1fa" stroke="#000" stroke-width="0.9"/>
<rect x="122.5" y="423.2" width="21.85" height="11.8" fill="none" stroke="#fff" stroke-opacity="0.3" stroke-width="0.8"/>
<rect x="145.4" y="422.1" width="24.05" height="14.0" fill="#fcddcb" stroke="#000" stroke-width="0.9"/>
<rect x="146.5" y="423.2" width="21.85" height="11.8" fill="none" stroke="#fff" stroke-opacity="0.3" stroke-width="0.8"/>
<rect x="169.4" y="422.1" width="24.05" height="14.0" fill="#f6b28c" stroke="#000" stroke-width="0.9"/>
<rect x="170.5" y="423.2" width="21.85" height="11.8" fill="none" stroke="#fff" stroke-opacity="0.3" stroke-width="0.8"/>
<rect x="193.5" y="422.1" width="24.05" height="14.0" fill="#f08a50" stroke="#000" stroke-width="0.9"/>
<rect x="194.6" y="423.2" width="21.85" height="11.8" fill="none" stroke="#fff" stroke-opacity="0.3" stroke-width="0.8"/>
<rect x="217.6" y="422.1" width="24.05" height="14.0" fill="#eb5f0c" stroke="#000" stroke-width="0.9"/>
<rect x="218.7" y="423.2" width="21.85" height="11.8" fill="none" stroke="#fff" stroke-opacity="0.3" stroke-width="0.8"/>
</svg>
<div class="t" style="left:53.2px;width:40px;text-align:center;top:441px;font-size:8.8px;line-height:10px;">-2.32</div>
<div class="t" style="left:77.3px;width:40px;text-align:center;top:441px;font-size:8.8px;line-height:10px;">-1.96</div>
<div class="t" style="left:101.4px;width:40px;text-align:center;top:441px;font-size:8.8px;line-height:10px;">-1.65</div>
<div class="t" style="left:125.4px;width:40px;text-align:center;top:441px;font-size:8.8px;line-height:10px;">0</div>
<div class="t" style="left:149.4px;width:40px;text-align:center;top:441px;font-size:8.8px;line-height:10px;">1.65</div>
<div class="t" style="left:173.5px;width:40px;text-align:center;top:441px;font-size:8.8px;line-height:10px;">1.96</div>
<div class="t" style="left:197.6px;width:40px;text-align:center;top:441px;font-size:8.8px;line-height:10px;">2.32</div>
<div class="t" style="left:45px;width:200px;text-align:center;top:368.5px;font-size:16.8px;line-height:18px;">Fuck</div>
<div class="t" style="left:45px;width:200px;text-align:center;top:395px;font-size:16.8px;line-height:18px;">Gi z-score</div>
</body></html>
